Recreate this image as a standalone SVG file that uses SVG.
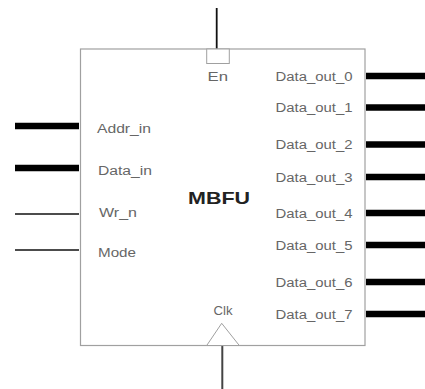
<svg xmlns="http://www.w3.org/2000/svg" width="425" height="389" viewBox="0 0 425 389">
<style>
.box{fill:#fff;stroke:#a0a0a0;stroke-width:1.2}
.lbl{font-family:"Liberation Sans",Arial,sans-serif;font-size:12.5px;fill:#666}
.title{font-family:"Liberation Sans",Arial,sans-serif;font-size:16.5px;font-weight:bold;fill:#222}
.bus{stroke:#000;stroke-width:6.5;fill:none}
.sig{stroke:#111;stroke-width:1.4;fill:none}
.port{fill:#fff;stroke:#a0a0a0;stroke-width:1}
</style>
<rect width="425" height="389" fill="#fff"/>
<g id="connectors">
  <line class="sig" x1="216.7" y1="8" x2="216.7" y2="49" style="stroke-width:1.8"/>
  <line class="sig" x1="222.3" y1="346" x2="222.3" y2="389" style="stroke:#444;stroke-width:2"/>
  <line class="bus" x1="15" y1="126" x2="79" y2="126"/>
  <line class="bus" x1="15" y1="168" x2="79" y2="168"/>
  <line class="sig" x1="15" y1="214" x2="79" y2="214"/>
  <line class="sig" x1="15" y1="250" x2="79" y2="250"/>
  <line class="bus" x1="366" y1="76" x2="425" y2="76"/>
  <line class="bus" x1="366" y1="107.5" x2="425" y2="107.5"/>
  <line class="bus" x1="366" y1="144.5" x2="425" y2="144.5"/>
  <line class="bus" x1="366" y1="177" x2="425" y2="177"/>
  <line class="bus" x1="366" y1="213" x2="425" y2="213"/>
  <line class="bus" x1="366" y1="245" x2="425" y2="245"/>
  <line class="bus" x1="366" y1="282" x2="425" y2="282"/>
  <line class="bus" x1="366" y1="314" x2="425" y2="314"/>
</g>
<g id="MBFU">
  <rect class="box" x="80.5" y="49" width="284.5" height="296.5"/>
  <rect class="port" x="206.7" y="49" width="22.6" height="14.5"/>
  <polygon class="port" points="206.7,345.5 221.7,323.3 239.3,345.5"/>
  <text class="title" x="188" y="204" textLength="62" lengthAdjust="spacingAndGlyphs">MBFU</text>
  <text class="lbl" x="207.5" y="80.5" textLength="20.5" lengthAdjust="spacingAndGlyphs">En</text>
  <text class="lbl" x="213.5" y="315" textLength="19" lengthAdjust="spacingAndGlyphs">Clk</text>
  <text class="lbl" x="97" y="132.5" textLength="54" lengthAdjust="spacingAndGlyphs">Addr_in</text>
  <text class="lbl" x="98" y="174.5" textLength="54" lengthAdjust="spacingAndGlyphs">Data_in</text>
  <text class="lbl" x="99" y="216.5" textLength="38" lengthAdjust="spacingAndGlyphs">Wr_n</text>
  <text class="lbl" x="98" y="256.5" textLength="38" lengthAdjust="spacingAndGlyphs">Mode</text>
  <text class="lbl" x="275.5" y="80.5" textLength="77" lengthAdjust="spacingAndGlyphs">Data_out_0</text>
  <text class="lbl" x="275.5" y="112" textLength="77" lengthAdjust="spacingAndGlyphs">Data_out_1</text>
  <text class="lbl" x="275.5" y="149" textLength="77" lengthAdjust="spacingAndGlyphs">Data_out_2</text>
  <text class="lbl" x="275.5" y="181.5" textLength="77" lengthAdjust="spacingAndGlyphs">Data_out_3</text>
  <text class="lbl" x="275.5" y="217.5" textLength="77" lengthAdjust="spacingAndGlyphs">Data_out_4</text>
  <text class="lbl" x="275.5" y="249.5" textLength="77" lengthAdjust="spacingAndGlyphs">Data_out_5</text>
  <text class="lbl" x="275.5" y="286.5" textLength="77" lengthAdjust="spacingAndGlyphs">Data_out_6</text>
  <text class="lbl" x="275.5" y="318.5" textLength="77" lengthAdjust="spacingAndGlyphs">Data_out_7</text>
</g>
</svg>
